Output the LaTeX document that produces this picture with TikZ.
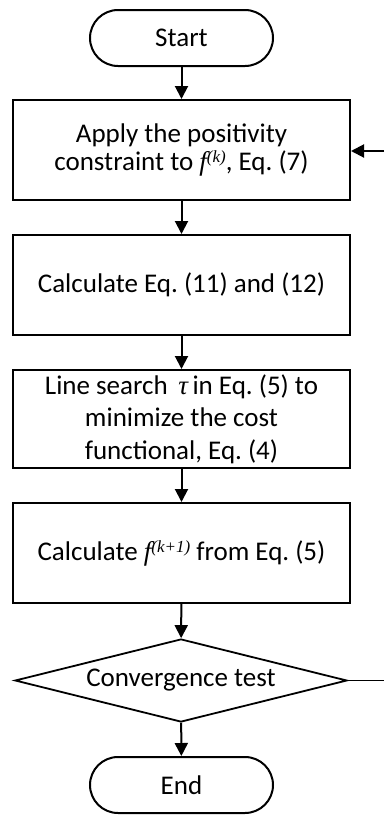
\documentclass[tikz,border=0pt]{standalone}
\usepackage{fontspec}
\setmainfont{Carlito}
\newfontfamily\tms{Liberation Serif}
\newcommand{\ff}[1]{{\tms\itshape f\raisebox{0.28em}{\fontsize{17}{17}\selectfont #1}}}
\usetikzlibrary{shapes.geometric,arrows.meta}
\begin{document}
\begin{tikzpicture}[x=1pt,y=1pt,
  every node/.style={font=\fontsize{27}{31}\selectfont, text=black},
  term/.style={draw, line width=2pt, rounded corners=28pt, minimum width=183pt, minimum height=56pt, inner sep=0pt},
  proc/.style={draw, line width=2pt, minimum width=337pt, minimum height=100pt, inner sep=0pt, align=center},
  dec/.style={draw, line width=1.8pt, diamond, aspect=4, minimum width=332pt, minimum height=83pt, inner sep=0pt},
  arr/.style={line width=2pt, -{Triangle[length=13pt,width=13pt]}},
  ln/.style={line width=1.8pt}]
\useasboundingbox (0,0) rectangle (384,-817);
\node[term] (start) at (181.5,-38) {Start};
\node[proc, font=\fontsize{27}{28}\selectfont] (b1) at (181.5,-150) {Apply the positivity\\constraint to \ff{(k)}, Eq.\ (7)};
\node[proc] (b2) at (181.5,-285) {Calculate Eq.\ (11) and (12)};
\node[proc, minimum height=98pt, font=\fontsize{27}{32.5}\selectfont] (b3) at (181.5,-419) {Line search \,{\tms\itshape τ}\,in Eq.\ (5) to\\minimize the cost\\functional, Eq.\ (4)};
\node[proc] (b4) at (181.5,-553) {Calculate \ff{(k+1)} from Eq.\ (5)};
\node[dec] (conv) at (181,-680.5) {Convergence test};
\node[term] (end) at (181.5,-785) {End};
\coordinate (fbA) at (384,-680.5);
\coordinate (fbB) at (384,-151);
\draw[arr] (start) -- (b1);
\draw[arr] (b1) -- (b2);
\draw[arr] (b2) -- (b3);
\draw[arr] (b3) -- (b4);
\draw[arr] (b4) -- (conv);
\draw[arr] (conv) -- (end);
\draw[ln] (conv.east) -- (fbA);
\draw[arr] (fbB) -- (b1.east |- fbB);
\end{tikzpicture}
\end{document}
